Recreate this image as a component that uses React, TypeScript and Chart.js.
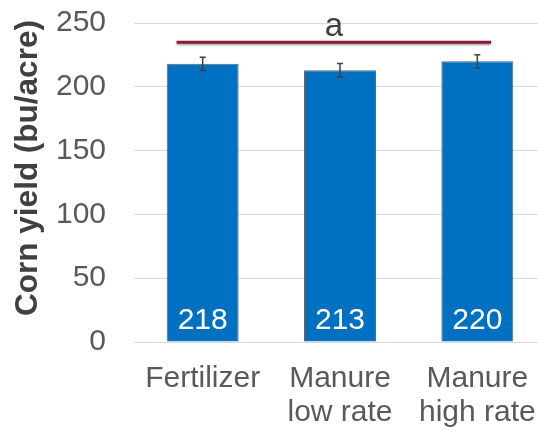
import React, { useEffect, useRef } from "react";
import { Chart, registerables } from "chart.js";

Chart.register(...registerables);

const categories: string[][] = [["Fertilizer"], ["Manure", "low rate"], ["Manure", "high rate"]];
const yieldValues: number[] = [218, 213, 220];
const errorValues: number[] = [5.2, 5.3, 5.2];
const valueLabels: string[] = ["218", "213", "220"];
const yTicks: number[] = [0, 50, 100, 150, 200, 250];
const yTitle = "Corn yield (bu/acre)";
const sigLetter = "a";
const sigValue = 235;
const sigStart = -0.19;
const sigEnd = 2.1;

const FONT = "'Liberation Sans', Arial, sans-serif";

const overlayPlugin = {
  id: "overlay",
  afterDatasetsDraw(chart: any) {
    const ctx = chart.ctx;
    const x = chart.scales.x;
    const y = chart.scales.y;
    ctx.save();
    // error bars
    ctx.strokeStyle = "#404040";
    ctx.lineWidth = 1.5;
    yieldValues.forEach((v, i) => {
      const px = x.getPixelForValue(i);
      const top = y.getPixelForValue(v + errorValues[i]);
      const bot = y.getPixelForValue(v - errorValues[i]);
      ctx.beginPath();
      ctx.moveTo(px, top);
      ctx.lineTo(px, bot);
      ctx.moveTo(px - 3, top);
      ctx.lineTo(px + 3, top);
      ctx.moveTo(px - 3, bot);
      ctx.lineTo(px + 3, bot);
      ctx.stroke();
    });
    // value labels
    ctx.fillStyle = "#ffffff";
    ctx.font = `30px ${FONT}`;
    ctx.textAlign = "center";
    ctx.textBaseline = "alphabetic";
    yieldValues.forEach((v, i) => {
      const px = x.getPixelForValue(i);
      ctx.fillText(valueLabels[i], px, y.getPixelForValue(0) - 13);
    });
    // significance line
    const x1 = x.getPixelForValue(sigStart);
    const x2 = x.getPixelForValue(sigEnd);
    const ly = y.getPixelForValue(sigValue);
    ctx.save();
    ctx.shadowColor = "rgba(0,0,0,0.35)";
    ctx.shadowBlur = 2;
    ctx.shadowOffsetY = 1.5;
    ctx.strokeStyle = "#8e1b30";
    ctx.lineWidth = 3;
    ctx.beginPath();
    ctx.moveTo(x1, ly);
    ctx.lineTo(x2, ly);
    ctx.stroke();
    ctx.restore();
    ctx.fillStyle = "#404040";
    ctx.font = `33px ${FONT}`;
    ctx.textAlign = "center";
    ctx.fillText(sigLetter, (x1 + x2) / 2, ly - 6);
    // y title
    ctx.save();
    ctx.translate(37, 168);
    ctx.rotate(-Math.PI / 2);
    ctx.fillStyle = "#404040";
    ctx.font = `bold 31.5px ${FONT}`;
    ctx.textAlign = "center";
    ctx.textBaseline = "alphabetic";
    ctx.fillText(yTitle, 0, 0);
    ctx.restore();
    ctx.restore();
  },
};

export default function App() {
  const ref = useRef<HTMLCanvasElement | null>(null);
  useEffect(() => {
    if (!ref.current) return;
    const chart = new Chart(ref.current, {
      type: "bar",
      data: {
        labels: categories,
        datasets: [
          {
            data: yieldValues,
            backgroundColor: "#0070C0",
            borderColor: "#646464",
            borderWidth: 1,
            barPercentage: 0.524,
            categoryPercentage: 1,
          },
        ],
      },
      options: {
        animation: false,
        responsive: false,
        maintainAspectRatio: false,
        layout: { padding: { top: 23, left: 0, right: 4, bottom: 0 } },
        plugins: { legend: { display: false }, tooltip: { enabled: false } },
        scales: {
          x: {
            grid: { display: false, drawTicks: false },
            border: { display: false },
            ticks: {
              color: "#595959",
              font: { size: 30, family: FONT, lineHeight: 1.13 },
              padding: 20,
              maxRotation: 0,
              autoSkip: false,
            },
            afterFit(scale: any) {
              scale.height = 90;
              scale.paddingLeft = 0;
              scale.paddingRight = 0;
            },
          },
          y: {
            min: 0,
            max: 250,
            afterBuildTicks(scale: any) {
              scale.ticks = yTicks.map((v) => ({ value: v }));
            },
            grid: { color: "#d9d9d9", lineWidth: 1, drawTicks: false },
            border: { display: false },
            ticks: {
              color: "#595959",
              font: { size: 30, family: FONT },
              padding: 28,
            },
            afterFit(scale: any) {
              scale.width = 134;
              scale.paddingTop = 0;
              scale.paddingBottom = 0;
            },
          },
        },
      },
      plugins: [overlayPlugin],
    });
    return () => chart.destroy();
  }, []);
  return (
    <div style={{ position: "fixed", left: 0, top: 0, width: 550, height: 432 }}>
      <canvas ref={ref} width={550} height={432} style={{ width: 550, height: 432 }} />
    </div>
  );
}
